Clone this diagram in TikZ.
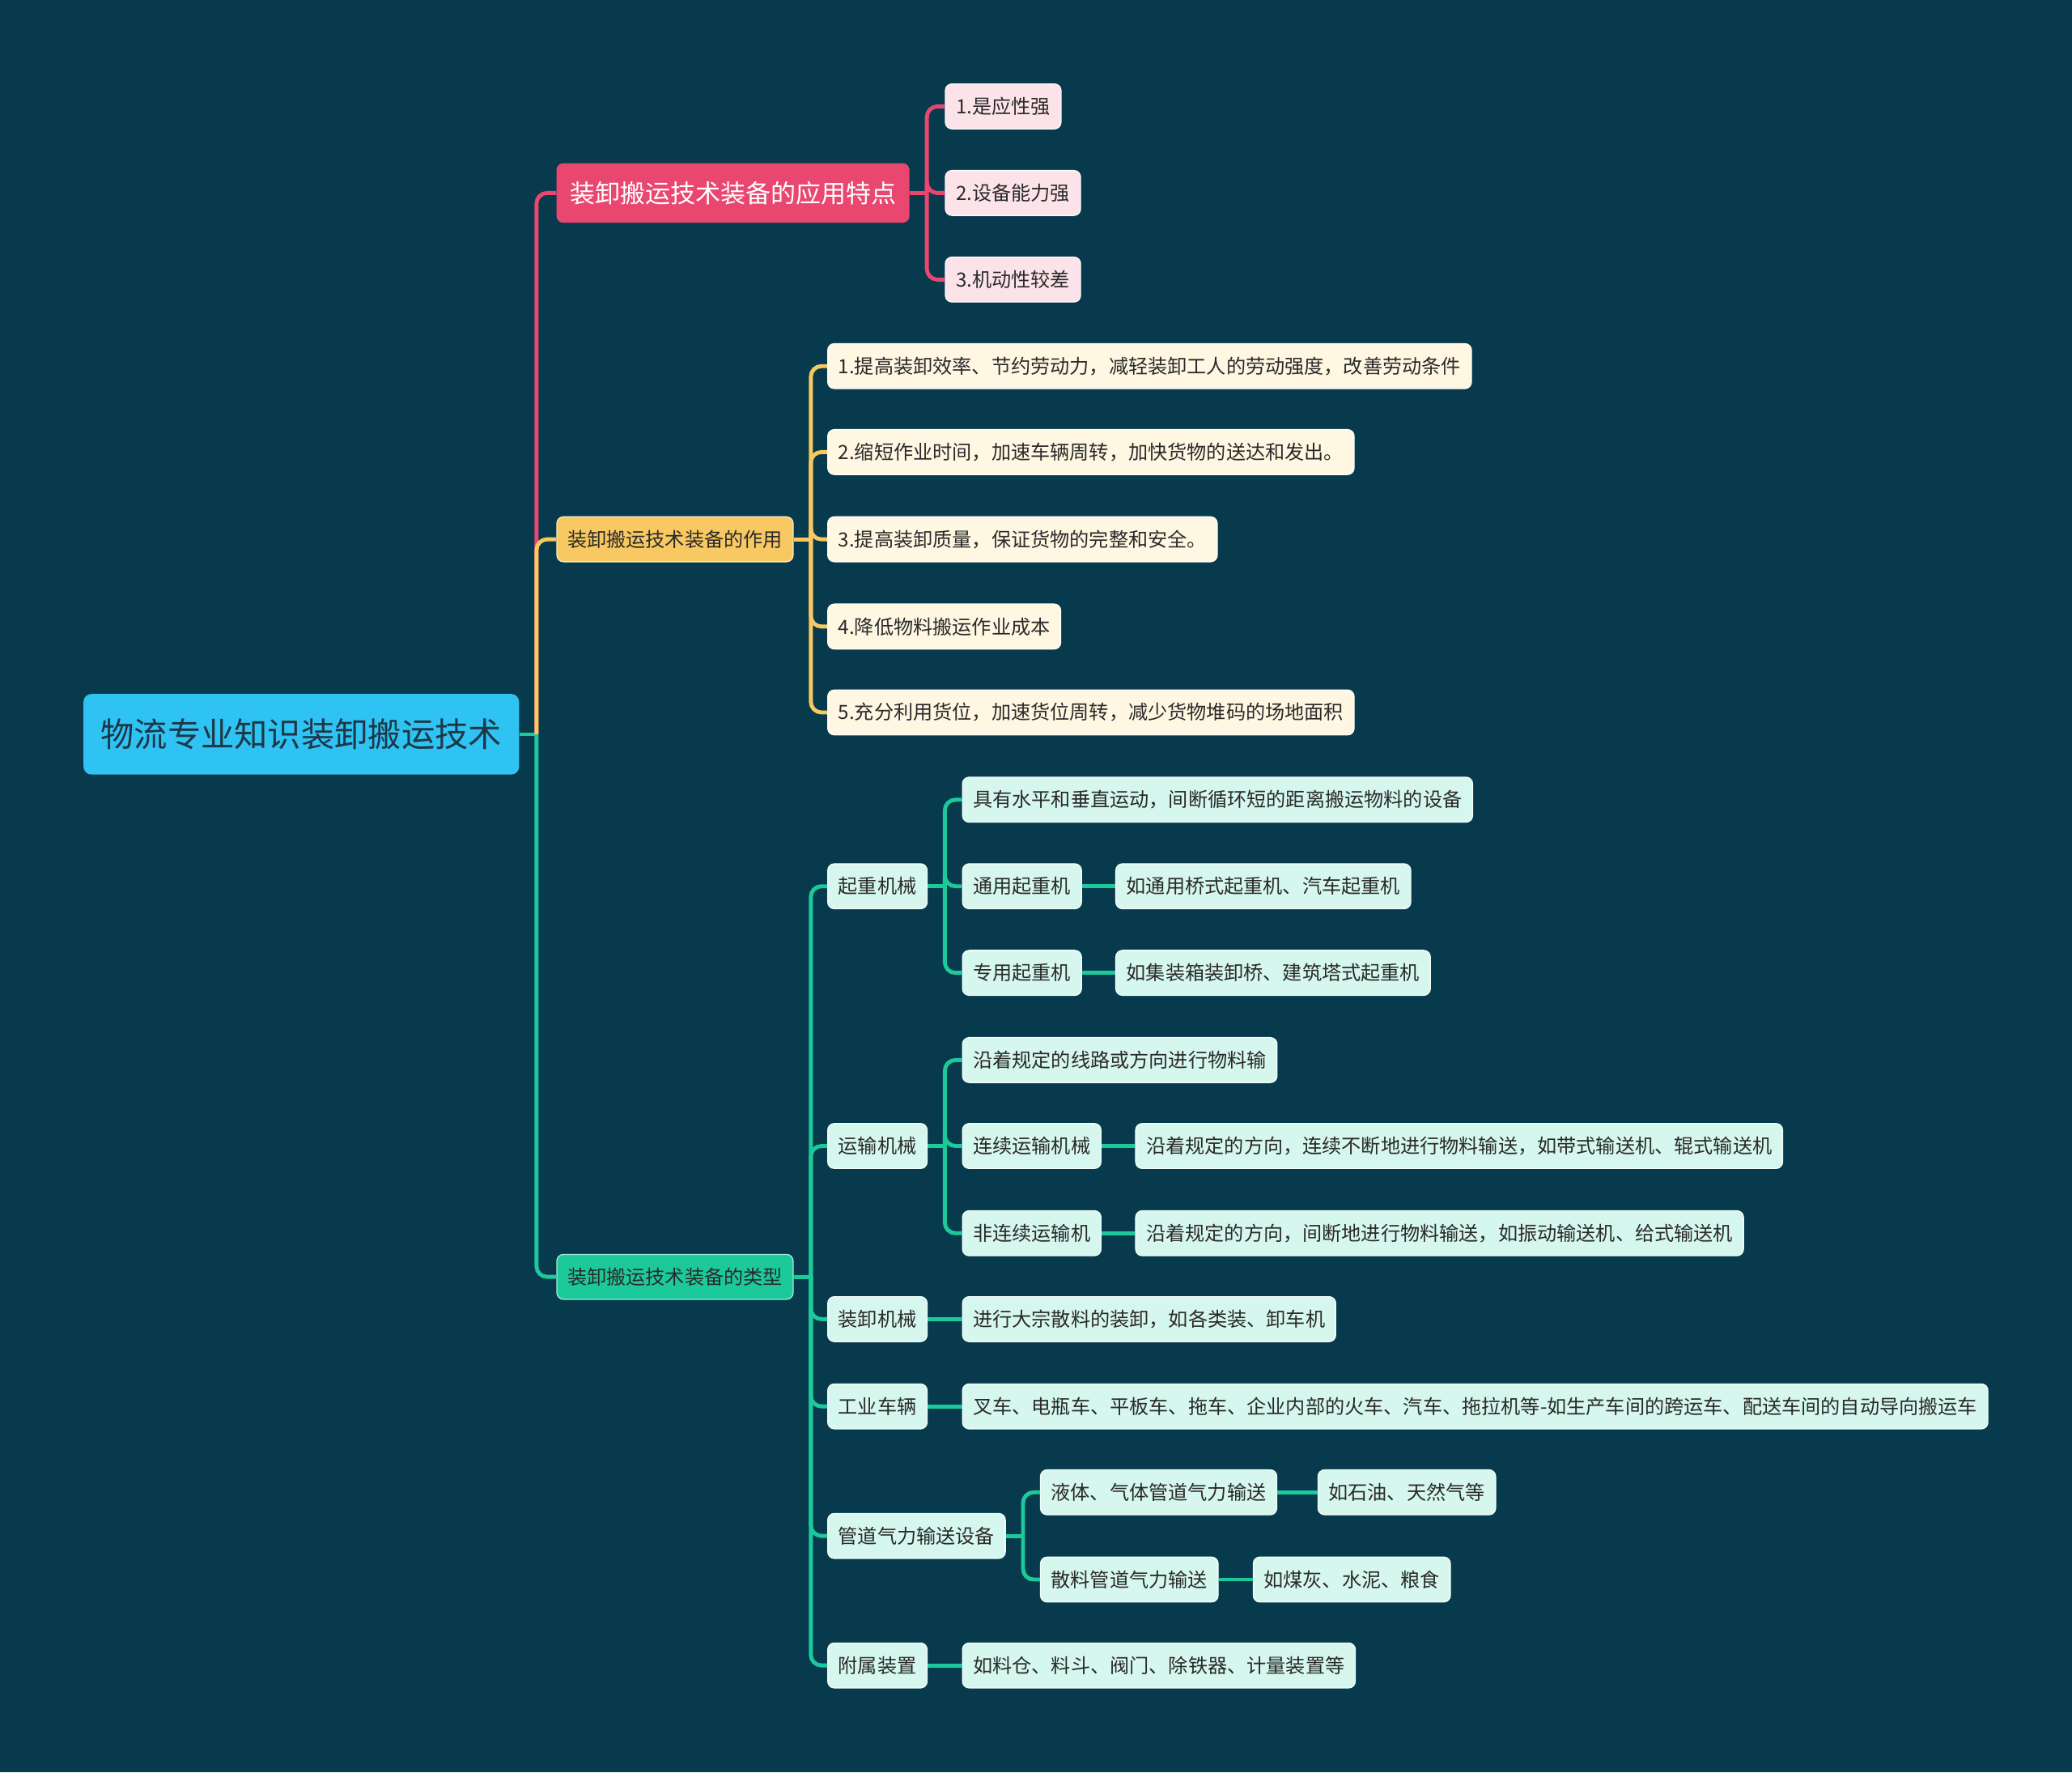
\documentclass[tikz,border=0pt]{standalone}
\usepackage{fontspec}
\setmainfont{Noto Sans CJK SC}
\usetikzlibrary{positioning}

\definecolor{bg}{HTML}{083A4D}
\definecolor{rootc}{HTML}{2EC3F2}
\definecolor{redc}{HTML}{E9476F}
\definecolor{redl}{HTML}{FCE3E9}
\definecolor{yelc}{HTML}{F8C862}
\definecolor{yell}{HTML}{FFF7E2}
\definecolor{grnc}{HTML}{1CC99B}
\definecolor{grnl}{HTML}{D6F7EE}
\definecolor{txt}{HTML}{2A2A2A}
\definecolor{rtxt}{HTML}{1D3747}

\begin{document}
\begin{tikzpicture}[x=1pt, y=-1pt,
    box/.style={rounded corners=5pt, anchor=west, inner xsep=8pt, inner ysep=0pt,
      minimum height=34pt, text=txt, font=\fontsize{14.8}{16}\selectfont},
    redleaf/.style={box, fill=redl, draw=white!70!redl, line width=0.8pt},
    yelleaf/.style={box, fill=yell, draw=white!70!yell, line width=0.8pt},
    grnleaf/.style={box, fill=grnl, draw=white!70!grnl, line width=0.8pt},
    link/.style={line width=3pt, rounded corners=8pt},
    stub/.style={line width=3pt}]

% background
\fill[bg] (0,0) rectangle (1568,1341);
\useasboundingbox (0,0) rectangle (1568,1341);

% root
\node[rounded corners=6pt, anchor=west, fill=rootc, text=rtxt, inner xsep=13pt,
  minimum height=61pt, font=\fontsize{25.3}{28}\selectfont] (root) at (63,555.5) {物流专业知识装卸搬运技术};
\coordinate (jr) at ([xshift=13pt]root.east);

% main branches
\node[box, fill=redc, text=white, inner xsep=10pt, minimum height=45pt,
  font=\fontsize{19}{22}\selectfont] (feat) at (421,146) {装卸搬运技术装备的应用特点};
\node[box, fill=yelc, draw=white!60!yelc, line width=0.8pt] (role) at (421,408) {装卸搬运技术装备的作用};
\node[box, fill=grnc, draw=white!60!grnc, line width=0.8pt] (kind) at (421,966) {装卸搬运技术装备的类型};

\draw[stub, grnc] (root.east) -- (jr);
\draw[link, redc] (jr) |- (feat.west);
\draw[link, yelc] (jr) |- (role.west);
\draw[link, grnc] (jr) |- (kind.west);

% features
\coordinate (jf) at ([xshift=13pt]feat.east);
\draw[stub, redc] (feat.east) -- (jf);
\foreach \n/\y/\t in {f1/80.5/{1.是应性强}, f2/146/{2.设备能力强}, f3/211.5/{3.机动性较差}} {
  \node[redleaf] (\n) at (715,\y) {\t};
  \draw[link, redc] (jf) |- (\n.west);
}

% roles
\coordinate (jo) at ([xshift=13pt]role.east);
\draw[stub, yelc] (role.east) -- (jo);
\foreach \n/\y/\t in {
    o1/277/{1.提高装卸效率、节约劳动力，减轻装卸工人的劳动强度，改善劳动条件},
    o2/342/{2.缩短作业时间，加速车辆周转，加快货物的送达和发出。},
    o3/408/{3.提高装卸质量，保证货物的完整和安全。},
    o4/474/{4.降低物料搬运作业成本},
    o5/539/{5.充分利用货位，加速货位周转，减少货物堆码的场地面积}} {
  \node[yelleaf] (\n) at (626,\y) {\t};
  \draw[link, yelc] (jo) |- (\n.west);
}

% kinds
\coordinate (jk) at ([xshift=13pt]kind.east);
\draw[stub, grnc] (kind.east) -- (jk);
\foreach \n/\y/\t in {q/670.5/起重机械, t/867/运输机械, z/998/装卸机械,
    g/1064/工业车辆, p/1162/管道气力输送设备, a/1260/附属装置} {
  \node[grnleaf] (\n) at (626,\y) {\t};
  \draw[link, grnc] (jk) |- (\n.west);
}

% lifting machines
\node[grnleaf] (q1) at (728,605) {具有水平和垂直运动，间断循环短的距离搬运物料的设备};
\node[grnleaf] (q2) at (728,670.5) {通用起重机};
\node[grnleaf] (q3) at (728,736) {专用起重机};
\node[grnleaf] (q2a) at (844,670.5) {如通用桥式起重机、汽车起重机};
\node[grnleaf] (q3a) at (844,736) {如集装箱装卸桥、建筑塔式起重机};
\coordinate (jq) at ([xshift=13pt]q.east);
\draw[stub, grnc] (q.east) -- (jq);
\foreach \n in {q1,q2,q3} \draw[link, grnc] (jq) |- (\n.west);
\draw[stub, grnc] (q2) -- (q2a);
\draw[stub, grnc] (q3) -- (q3a);

% conveying machines
\node[grnleaf] (t1) at (728,802) {沿着规定的线路或方向进行物料输};
\node[grnleaf] (t2) at (728,867) {连续运输机械};
\node[grnleaf] (t3) at (728,933) {非连续运输机};
\node[grnleaf] (t2a) at (859,867) {沿着规定的方向，连续不断地进行物料输送，如带式输送机、辊式输送机};
\node[grnleaf] (t3a) at (859,933) {沿着规定的方向，间断地进行物料输送，如振动输送机、给式输送机};
\coordinate (jt) at ([xshift=13pt]t.east);
\draw[stub, grnc] (t.east) -- (jt);
\foreach \n in {t1,t2,t3} \draw[link, grnc] (jt) |- (\n.west);
\draw[stub, grnc] (t2) -- (t2a);
\draw[stub, grnc] (t3) -- (t3a);

% single items
\node[grnleaf] (z1) at (728,998) {进行大宗散料的装卸，如各类装、卸车机};
\node[grnleaf] (g1) at (728,1064) {叉车、电瓶车、平板车、拖车、企业内部的火车、汽车、拖拉机等-如生产车间的跨运车、配送车间的自动导向搬运车};
\node[grnleaf] (a1) at (728,1260) {如料仓、料斗、阀门、除铁器、计量装置等};
\draw[stub, grnc] (z) -- (z1);
\draw[stub, grnc] (g) -- (g1);
\draw[stub, grnc] (a) -- (a1);

% pneumatic pipes
\node[grnleaf] (p1) at (787,1129) {液体、气体管道气力输送};
\node[grnleaf] (p2) at (787,1195) {散料管道气力输送};
\node[grnleaf] (p1a) at (997,1129) {如石油、天然气等};
\node[grnleaf] (p2a) at (948,1195) {如煤灰、水泥、粮食};
\coordinate (jp) at ([xshift=13pt]p.east);
\draw[stub, grnc] (p.east) -- (jp);
\foreach \n in {p1,p2} \draw[link, grnc] (jp) |- (\n.west);
\draw[stub, grnc] (p1) -- (p1a);
\draw[stub, grnc] (p2) -- (p2a);
\end{tikzpicture}
\end{document}
